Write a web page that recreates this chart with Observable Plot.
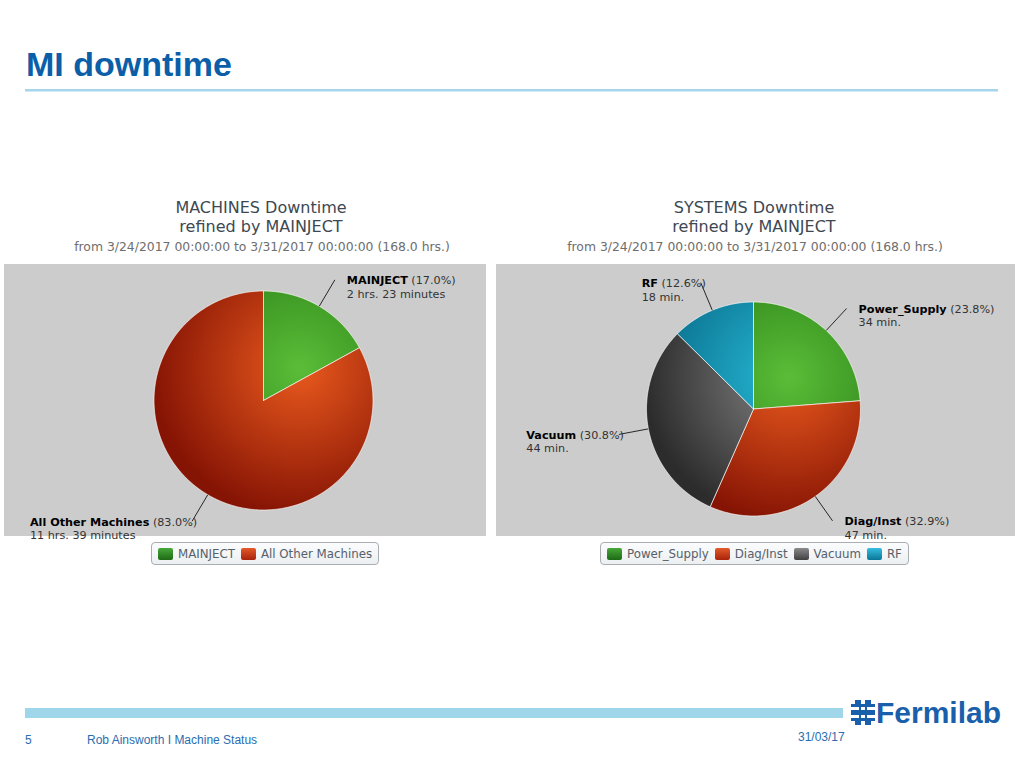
<!DOCTYPE html>
<html><head><meta charset="utf-8">
<script src="https://cdn.jsdelivr.net/npm/d3@7"></script>
<script src="https://cdn.jsdelivr.net/npm/@observablehq/plot@0.6"></script>
<style>
body{margin:0;background:#fff;}
#slide{position:relative;width:1024px;height:768px;overflow:hidden;font-family:"Liberation Sans",Arial,sans-serif;}
.legend{position:absolute;height:23px;box-sizing:border-box;border:1px solid #a9aeb3;border-radius:4px;background:linear-gradient(#fbfcfd,#eceff1);display:flex;align-items:center;padding:0 6px 0 6px;font-family:"DejaVu Sans";font-size:11.8px;color:#56606a;white-space:nowrap;}
.sw{width:15px;height:12px;border-radius:2px;margin-right:5px;box-sizing:border-box;}
.item{display:flex;align-items:center;margin-right:6px;}
.item:last-child{margin-right:0}
.panel{position:absolute;}
</style></head>
<body>
<div id="slide">
<svg id="overlay" width="1024" height="768" style="position:absolute;left:0;top:0">
  <text x="26" y="76" font-family="Liberation Sans" font-weight="bold" font-size="34" fill="#0b5ea8">MI downtime</text>
  <rect x="25" y="89" width="973" height="2.5" fill="#a6d6ea"/>
  <g font-family="DejaVu Sans" text-anchor="middle">
    <text x="261" y="213" font-size="16" fill="#3d4852">MACHINES Downtime</text>
    <text x="261" y="232" font-size="16" fill="#3d4852">refined by MAINJECT</text>
    <text x="262" y="251" font-size="12.4" fill="#6e6e6e">from 3/24/2017 00:00:00 to 3/31/2017 00:00:00 (168.0 hrs.)</text>
    <text x="754" y="213" font-size="16" fill="#3d4852">SYSTEMS Downtime</text>
    <text x="754" y="232" font-size="16" fill="#3d4852">refined by MAINJECT</text>
    <text x="755" y="251" font-size="12.4" fill="#6e6e6e">from 3/24/2017 00:00:00 to 3/31/2017 00:00:00 (168.0 hrs.)</text>
  </g>
  <rect x="25" y="708" width="818" height="10" fill="#9fd6ea"/>
  <g fill="#1a5fab">
    <rect x="855" y="700" width="6" height="5"/>
    <rect x="865" y="700" width="6" height="5"/>
    <rect x="851" y="704" width="24" height="3"/>
    <rect x="859" y="704" width="8" height="17"/>
    <rect x="851" y="710" width="24" height="5"/>
    <rect x="851" y="718" width="24" height="3"/>
    <rect x="855" y="720" width="6" height="5"/>
    <rect x="865" y="720" width="6" height="5"/>
  </g>
  <rect x="861" y="707" width="4" height="3" fill="#fff"/>
  <rect x="861" y="715" width="4" height="3" fill="#fff"/>
  <text x="876" y="723" font-family="Liberation Sans" font-weight="bold" font-size="30" fill="#1a5fab">Fermilab</text>
  <g font-family="Liberation Sans" font-size="12" fill="#2a6db0">
    <text x="25" y="744">5</text>
    <text x="87" y="744">Rob Ainsworth I Machine Status</text>
    <text x="798" y="741">31/03/17</text>
  </g>
</svg>
</div>
<script>
// ---- data ----
const machineNames = ["MAINJECT", "All Other Machines"];
const machineShares = [17.0, 83.0];
const machineDurations = ["2 hrs. 23 minutes", "11 hrs. 39 minutes"];

const systemNames = ["Power_Supply", "Diag/Inst", "Vacuum", "RF"];
const systemShares = [23.8, 32.9, 30.8, 12.6];
const systemDurations = ["34 min.", "47 min.", "44 min.", "18 min."];

// ---- styles ----
const gradStops = {
  green: ["#5abd38", "#267a14"],
  red: ["#ea5a1e", "#861404"],
  gray: ["#858585", "#2c2c2c"],
  blue: ["#27bad6", "#086c8a"]
};
const swatchGrad = {
  green: "linear-gradient(#47a83a,#1d6a14)",
  red: "linear-gradient(#e35a2a,#a8240c)",
  gray: "linear-gradient(#8a8a8a,#404040)",
  blue: "linear-gradient(#35bde0,#0a7697)"
};
const machinePalette = ["green", "red"];
const systemPalette = ["green", "red", "gray", "blue"];

const FONT = "DejaVu Sans";
const FS = 11.2;
const ctx = document.createElement("canvas").getContext("2d");
function measure(t, bold) { ctx.font = `${bold ? "bold " : ""}${FS}px '${FONT}'`; return ctx.measureText(t).width; }

function pie({names, shares, durations, palette, left, top, width, height, cx, cy, r, id}) {
  const total = d3.sum(shares);
  let acc = 0;
  const slices = names.map((name, i) => {
    const a0 = acc / total * 2 * Math.PI; acc += shares[i];
    const a1 = acc / total * 2 * Math.PI;
    const n = Math.max(2, Math.ceil((a1 - a0) / (Math.PI / 360)));
    const pts = [{x: 0, y: 0}];
    for (let k = 0; k <= n; k++) { const a = a0 + (a1 - a0) * k / n; pts.push({x: Math.sin(a), y: Math.cos(a)}); }
    pts.push({x: 0, y: 0});
    const mid = (a0 + a1) / 2;
    const ex = 1.28 * Math.sin(mid), ey = 1.28 * Math.cos(mid);
    const pct = `(${shares[i].toFixed(1)}%)`;
    const wName = measure(name, true), wSpace = measure(" "), wPct = measure(pct);
    let nameX;
    if (Math.sin(mid) >= 0) nameX = ex + 12 / r;
    else nameX = ex + 5 / r - (wName + wSpace + wPct) / r;
    return {name, pct, duration: durations[i], mid, pts, i, ex, ey, nameX, pctX: nameX + (wName + wSpace) / r};
  });
  const marks = slices.map(s => Plot.line(s.pts, {x: "x", y: "y", fill: `url(#${id}-g${s.i})`, stroke: "#ffffff", strokeOpacity: 0.65, strokeWidth: 1, curve: "linear"}));
  marks.push(
    Plot.link(slices, {x1: d => Math.sin(d.mid), y1: d => Math.cos(d.mid), x2: "ex", y2: "ey", stroke: "#262626", strokeWidth: 1}),
    Plot.text(slices, {x: "nameX", y: "ey", text: "name", textAnchor: "start", fontWeight: "bold", fill: "#000", fontSize: FS, fontFamily: FONT, dy: 0.8}),
    Plot.text(slices, {x: "pctX", y: "ey", text: "pct", textAnchor: "start", fill: "#333", fontSize: FS, fontFamily: FONT, dy: 0.8}),
    Plot.text(slices, {x: "nameX", y: "ey", text: "duration", textAnchor: "start", fill: "#333", fontSize: FS, fontFamily: FONT, dy: 14.3})
  );
  const plot = Plot.plot({
    width, height, margin: 0,
    x: {domain: [-cx / r, (width - cx) / r], axis: null},
    y: {domain: [-(height - cy) / r, cy / r], axis: null},
    style: {background: "#cccccc", overflow: "visible"},
    marks
  });
  const gx = plot.scale("x").apply(0.33), gy = plot.scale("y").apply(0.3);
  const defs = d3.select(plot).insert("defs", ":first-child");
  slices.forEach(s => {
    const [c0, c1] = gradStops[palette[s.i]];
    const g = defs.append("radialGradient").attr("id", `${id}-g${s.i}`).attr("gradientUnits", "userSpaceOnUse")
      .attr("cx", gx).attr("cy", gy).attr("r", 1.35 * r);
    g.append("stop").attr("offset", 0).attr("stop-color", c0);
    g.append("stop").attr("offset", 1).attr("stop-color", c1);
  });
  const wrap = document.createElement("div");
  wrap.className = "panel";
  wrap.style.left = left + "px"; wrap.style.top = top + "px"; wrap.style.width = width + "px"; wrap.style.height = height + "px";
  wrap.appendChild(plot);
  document.getElementById("slide").appendChild(wrap);
}

function legend(names, palette, left, top) {
  const box = document.createElement("div");
  box.className = "legend";
  box.style.left = left + "px"; box.style.top = top + "px";
  names.forEach((n, i) => {
    const it = document.createElement("div"); it.className = "item";
    const sw = document.createElement("div"); sw.className = "sw"; sw.style.background = swatchGrad[palette[i]];
    const tx = document.createElement("span"); tx.textContent = n;
    it.appendChild(sw); it.appendChild(tx); box.appendChild(it);
  });
  document.getElementById("slide").appendChild(box);
}

pie({names: machineNames, shares: machineShares, durations: machineDurations, palette: machinePalette,
     left: 4, top: 264, width: 482, height: 272, cx: 259, cy: 136, r: 109.5, id: "m"});
pie({names: systemNames, shares: systemShares, durations: systemDurations, palette: systemPalette,
     left: 496, top: 264, width: 519, height: 272, cx: 257, cy: 144.5, r: 107, id: "s"});
legend(machineNames, machinePalette, 151, 542);
legend(systemNames, systemPalette, 600, 542);
</script>
</body></html>
